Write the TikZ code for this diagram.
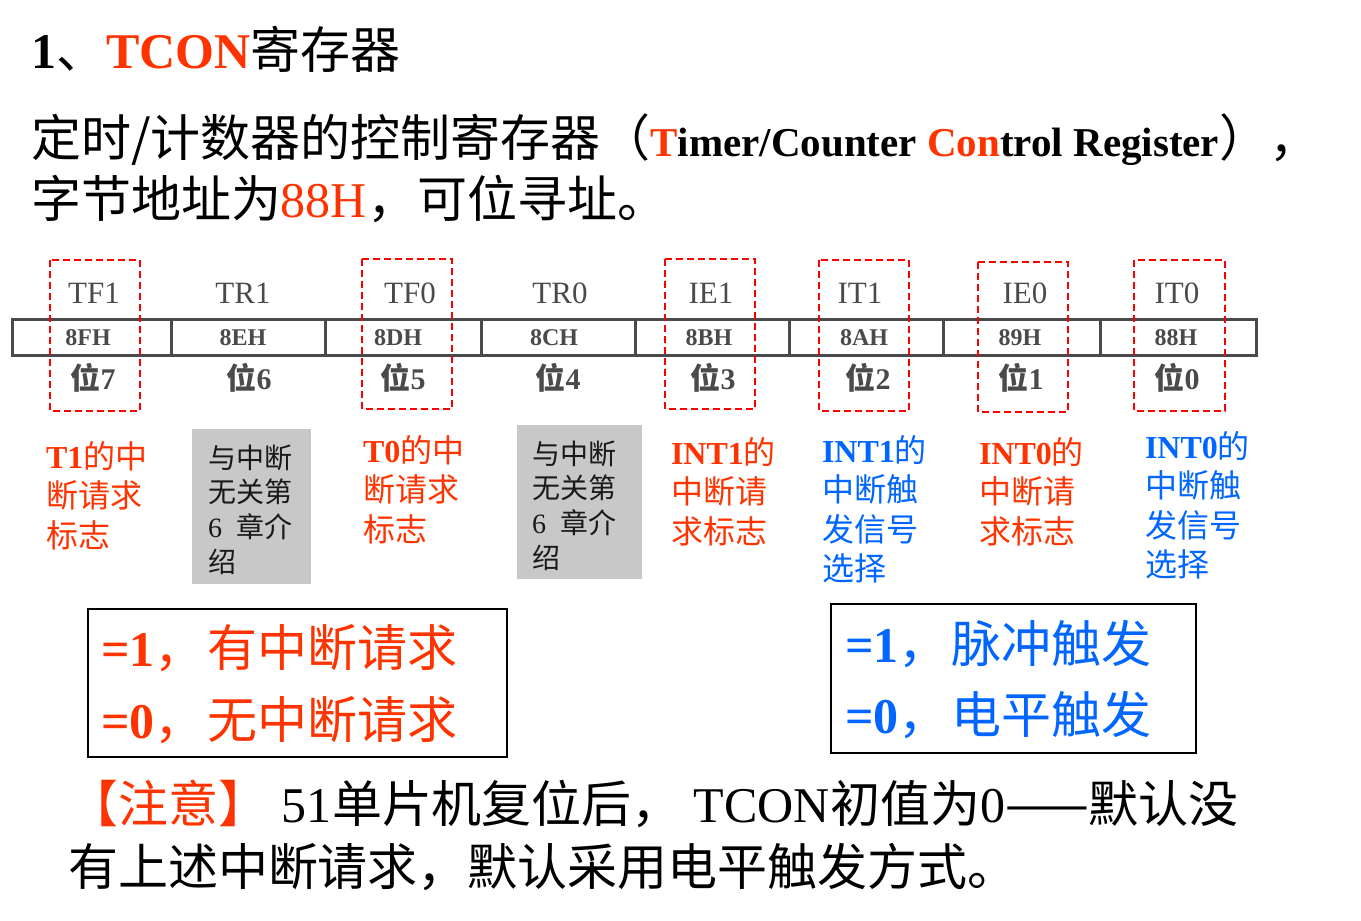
\documentclass[tikz,border=0pt]{standalone}
\usepackage{fontspec}
\setmainfont{Liberation Serif}
\newfontfamily\cjk{Noto Sans CJK SC}
\newcommand\zh[1]{{\cjk #1}}
\newcommand\myfs[2]{\fontsize{#1}{#2}\selectfont}
\definecolor{tred}{HTML}{FF3300}
\definecolor{tblue}{HTML}{0066FF}
\definecolor{dred}{HTML}{FF0000}
\definecolor{tgray}{HTML}{4A4A4A}
\definecolor{boxgray}{HTML}{C8C8C8}
\begin{document}
\begin{tikzpicture}[x=1pt,y=-1pt,
  every node/.style={inner sep=0pt,outer sep=0pt},
  txt/.style={anchor=base west},
  lab/.style={anchor=north west,align=left,font=\myfs{32}{39.5}},
  grytxt/.style={anchor=north west,align=left,font=\myfs{28}{34.7}\cjk,text=black!90},
  dbox/.style={draw=dred,line width=2.2pt,dash pattern=on 7pt off 4pt},
  regline/.style={draw=tgray,line width=3pt},
  bitname/.style={anchor=base,font=\myfs{31}{36},text=tgray},
  addr/.style={anchor=base,font=\myfs{24}{28}\bfseries,text=tgray},
  bitn/.style={anchor=base,font=\myfs{30}{34}\bfseries,text=tgray},
  fbox/.style={draw=black,line width=2pt},
  big/.style={anchor=north west,align=left},
]
\useasboundingbox (0,0) rectangle (1361,921);

% title and intro
\node[txt] (title) at (31,68) {\myfs{50}{60}\textbf{1}\zh{、}\textcolor{tred}{\textbf{TCON}}\zh{寄存器}};
\node[txt] (intro1) at (31,156) {\myfs{50}{60}\zh{定时/计数器的控制寄存器（}{\myfs{41}{50}\bfseries\textcolor{tred}{T}imer/Counter \textcolor{tred}{Con}trol Register}\zh{），}};
\node[txt] (intro2) at (31,217) {\myfs{50}{60}\zh{字节地址为}\textcolor{tred}{88H}\zh{，可位寻址。}};

% register table
\draw[regline] (12,319) rectangle (1256,355);
\foreach \xx in {171,325,481,635,789,943,1100}
  \draw[regline] (\xx,319) -- (\xx,355);
\foreach \nm/\cx [count=\i] in {TF1/94,TR1/243,TF0/410,TR0/560,IE1/711,IT1/860,IE0/1025,IT0/1177}
  \node[bitname] (nm\i) at (\cx,303) {\nm};
\foreach \ad/\cx [count=\i] in {8FH/88,8EH/243,8DH/398,8CH/554,8BH/709,8AH/864,89H/1020,88H/1176}
  \node[addr] (ad\i) at (\cx,345) {\ad};
\foreach \bn/\cx [count=\i] in {7/93,6/249,5/403,4/558,3/713,2/868,1/1021,0/1177}
  \node[bitn] (bit\i) at (\cx,389) {\zh{位}\bn};

% dashed highlight boxes
\draw[dbox] (50,260) rectangle (140,411);
\draw[dbox] (362,259) rectangle (452,409);
\draw[dbox] (665,259) rectangle (755,409);
\draw[dbox] (819,260) rectangle (909,411);
\draw[dbox] (978,262) rectangle (1068,412);
\draw[dbox] (1134,260) rectangle (1225,411);

% gray boxes
\fill[boxgray] (192,429) rectangle (311,584);
\fill[boxgray] (517,425) rectangle (642,579);
\node[grytxt] (g1) at (208,440) {\rule{0pt}{28pt}与中断\\无关第\\{\rmfamily 6}\hspace{0.5em}章介\\绍};
\node[grytxt] (g2) at (532,436) {\rule{0pt}{28pt}与中断\\无关第\\{\rmfamily 6}\hspace{0.5em}章介\\绍};

% labels
\node[lab,text=tred] (lt1) at (46,436) {\rule{0pt}{32pt}\textbf{T1}\zh{的中}\\\zh{断请求}\\\zh{标志}};
\node[lab,text=tred] (lt0) at (363,430) {\rule{0pt}{32pt}\textbf{T0}\zh{的中}\\\zh{断请求}\\\zh{标志}};
\node[lab,text=tred] (lie1) at (671,432) {\rule{0pt}{32pt}\textbf{INT1}\zh{的}\\\zh{中断请}\\\zh{求标志}};
\node[lab,text=tblue] (lit1) at (822,430) {\rule{0pt}{32pt}\textbf{INT1}\zh{的}\\\zh{中断触}\\\zh{发信号}\\\zh{选择}};
\node[lab,text=tred] (lie0) at (979,432) {\rule{0pt}{32pt}\textbf{INT0}\zh{的}\\\zh{中断请}\\\zh{求标志}};
\node[lab,text=tblue] (lit0) at (1145,426) {\rule{0pt}{32pt}\textbf{INT0}\zh{的}\\\zh{中断触}\\\zh{发信号}\\\zh{选择}};

% meaning boxes
\draw[fbox] (88,609) rectangle (507,757);
\node[big,text=tred,font=\myfs{50}{72}] (req) at (101,616) {\rule{0pt}{50pt}\textbf{=1}\zh{，}\hspace{3pt}\zh{有中断请求}\\\textbf{=0}\zh{，}\hspace{3pt}\zh{无中断请求}};
\draw[fbox] (831,604) rectangle (1196,753);
\node[big,text=tblue,font=\myfs{50}{71}] (trig) at (845,612) {\rule{0pt}{50pt}\textbf{=1}\zh{，}\hspace{3pt}\zh{脉冲触发}\\\textbf{=0}\zh{，}\hspace{3pt}\zh{电平触发}};

% note
\node[big,font=\myfs{50}{63}] (note) at (68,772) {\rule{0pt}{50pt}\textcolor{tred}{\zh{【注意】}}\hspace{14pt}51\zh{单片机复位后，}\hspace{12pt}TCON\zh{初值为}0\zh{——默认没}\\\zh{有上述中断请求，默认采用电平触发方式。}};
\end{tikzpicture}
\end{document}
